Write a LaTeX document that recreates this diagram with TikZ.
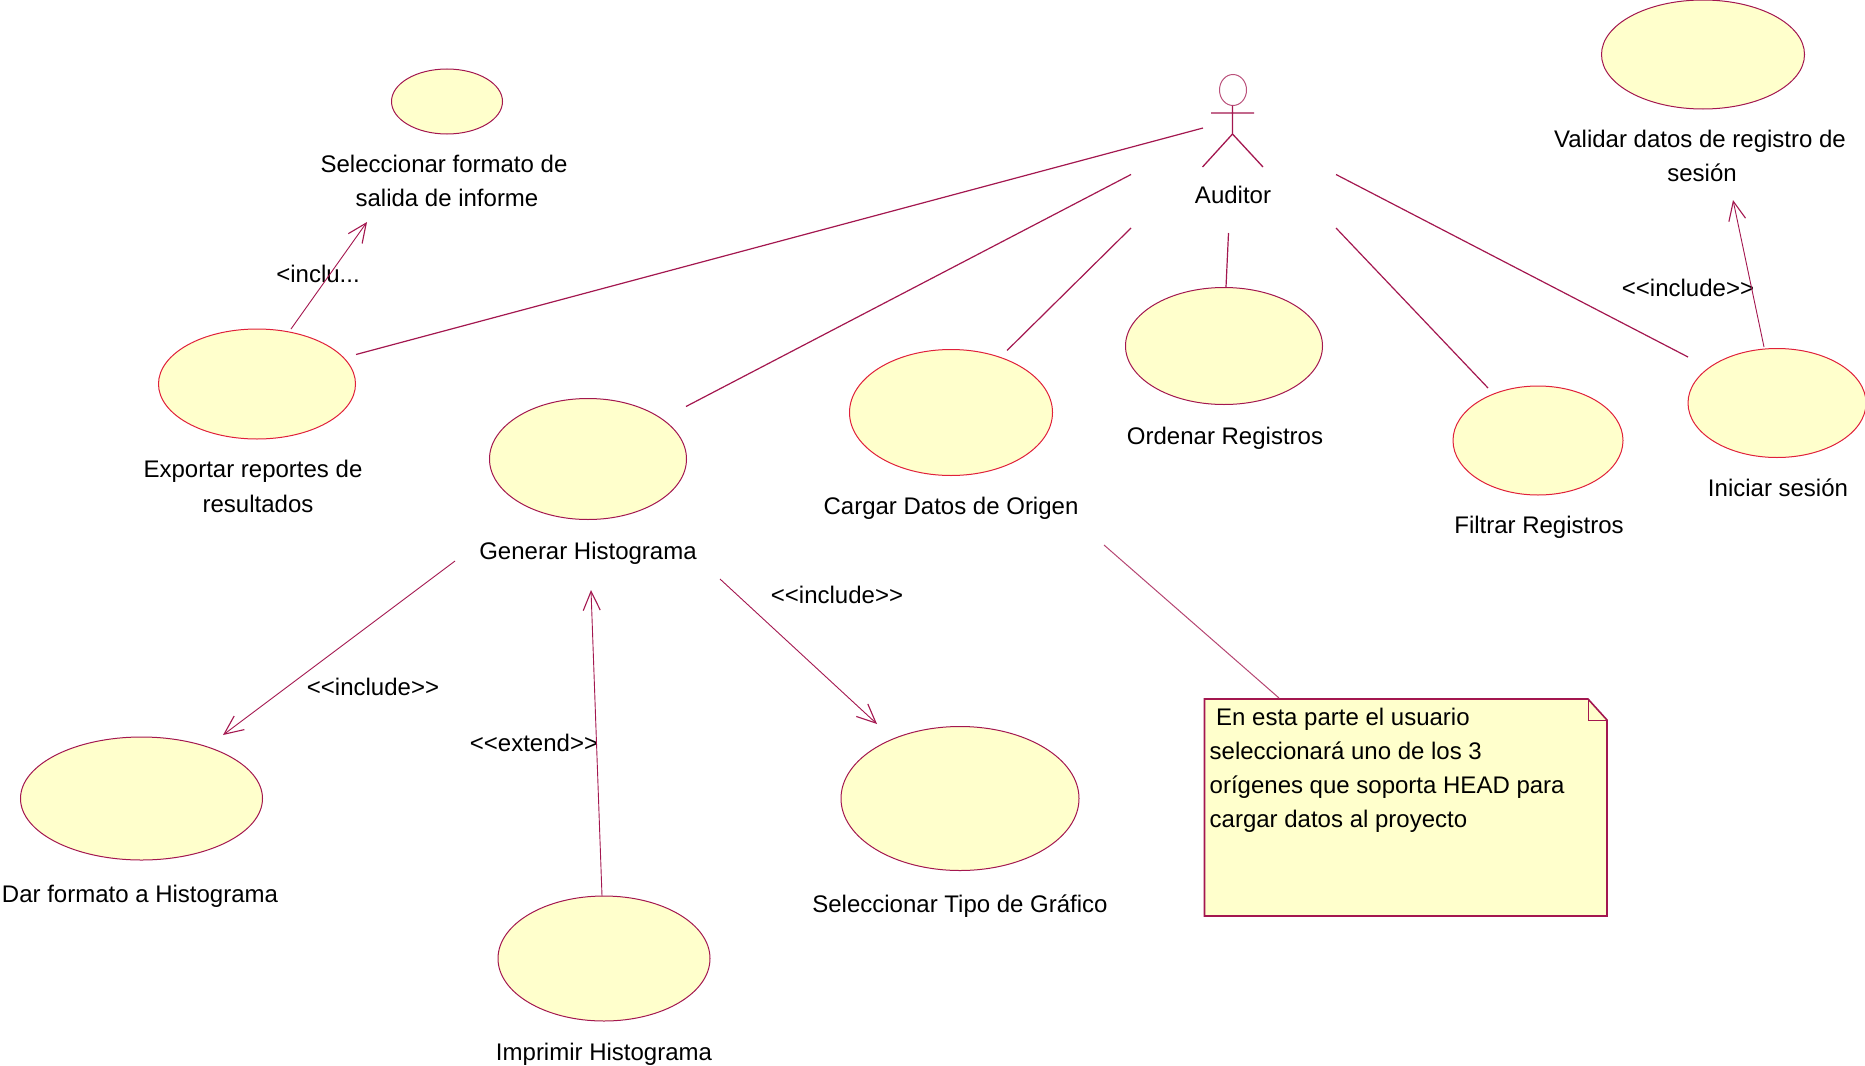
\documentclass[tikz,border=0pt]{standalone}
\usepackage{fontspec}
\setmainfont{Liberation Sans}
\usetikzlibrary{shapes.geometric,arrows.meta}
\definecolor{umlline}{HTML}{A3174F}
\definecolor{umlred}{HTML}{E0203A}
\definecolor{umlfill}{HTML}{FFFFCC}
\newcommand{\dbllt}{<\kern0pt<}
\newcommand{\dblgt}{>\kern0pt>}
\tikzset{
  usecase/.style={ellipse,draw=umlline,fill=umlfill,line width=1pt,inner sep=0pt},
  lab/.style={font=\fontsize{24}{34.5}\selectfont,text=black,align=center,inner sep=0pt,text height=18pt,text depth=5pt},
  assoc/.style={draw=umlline,line width=1.2pt},
  dep/.style={draw=umlline,line width=0.9pt,-{Straight Barb[length=19pt,width=17pt,line width=1.1pt]}},
  actorline/.style={draw=umlline,line width=1.3pt}
}
\begin{document}
\begin{tikzpicture}[x=1pt,y=-1pt]
\useasboundingbox (0,0) rectangle (1865,1065);
% use cases
\node[usecase,minimum width=111pt,minimum height=65pt] (ucFormato) at (447,101.5) {};
\node[usecase,minimum width=203pt,minimum height=109pt] (ucValidar) at (1703,54.5) {};
\node[usecase,draw=umlred,minimum width=197pt,minimum height=110pt] (ucExportar) at (257,384) {};
\node[usecase,minimum width=197pt,minimum height=121pt] (ucGenerar) at (588,459) {};
\node[usecase,draw=umlred,minimum width=203pt,minimum height=126pt] (ucCargar) at (951,412.5) {};
\node[usecase,minimum width=197pt,minimum height=117pt] (ucOrdenar) at (1224,346) {};
\node[usecase,draw=umlred,minimum width=170pt,minimum height=109pt] (ucFiltrar) at (1538,440.5) {};
\node[usecase,draw=umlred,minimum width=178pt,minimum height=109pt] (ucIniciar) at (1777,403) {};
\node[usecase,minimum width=242pt,minimum height=123pt] (ucDar) at (141.5,798.5) {};
\node[usecase,minimum width=238pt,minimum height=144pt] (ucTipo) at (960,798.5) {};
\node[usecase,minimum width=212pt,minimum height=125pt] (ucImprimir) at (604,958.5) {};
% actor
\node[ellipse,draw=umlline!75,line width=1pt,inner sep=0pt,minimum width=27pt,minimum height=31pt] (head) at (1233,90) {};
\coordinate (neck) at (1232.5,105.5);
\coordinate (hip) at (1232.5,134);
\coordinate (armL) at (1211,113);
\coordinate (armR) at (1254,113);
\coordinate (legL) at (1202.5,167);
\coordinate (legR) at (1263,167);
\draw[actorline] (neck) -- (hip) (armL) -- (armR) (legL) -- (hip) -- (legR);
% note
\coordinate (nA) at (1204.5,699);
\coordinate (nB) at (1588,699);
\coordinate (nC) at (1607,720);
\coordinate (nD) at (1607,916);
\coordinate (nE) at (1204.5,916);
\coordinate (nF) at (1588,720);
\draw[draw=umlline,fill=umlfill,line width=1.6pt] (nA) -- (nB) -- (nC) -- (nD) -- (nE) -- cycle;
\draw[draw=umlline,line width=1pt] (nB) -- (nF) -- (nC);
% labels
\node[lab] (tFormatoA) at (444,166) {Seleccionar formato de};
\node[lab] (tFormatoB) at (447,200) {salida de informe};
\node[lab] (tValidarA) at (1700,141) {Validar datos de registro de};
\node[lab] (tValidarB) at (1702,175) {sesión};
\node[lab] (tExportarA) at (253,471) {Exportar reportes de};
\node[lab] (tExportarB) at (258,506) {resultados};
\node[lab] (tGenerar) at (588,553) {Generar Histograma};
\node[lab] (tCargar) at (951,508) {Cargar Datos de Origen};
\node[lab] (tOrdenar) at (1225,438) {Ordenar Registros};
\node[lab] (tFiltrar) at (1539,527) {Filtrar Registros};
\node[lab] (tIniciar) at (1778,490) {Iniciar sesión};
\node[lab] (tDar) at (140,896) {Dar formato a Histograma};
\node[lab] (tTipo) at (960,906) {Seleccionar Tipo de Gráfico};
\node[lab] (tImprimir) at (604,1054) {Imprimir Histograma};
\node[lab] (tAuditor) at (1233,197) {Auditor};
\node[lab] (sInclu) at (318,276) {<inclu...};
\node[lab] (sIncA) at (1688,290) {\dbllt include\dblgt};
\node[lab] (sIncB) at (837,597) {\dbllt include\dblgt};
\node[lab] (sIncC) at (373,689) {\dbllt include\dblgt};
\node[lab] (sExt) at (534,745) {\dbllt extend\dblgt};
\node[lab,anchor=west] (nt1) at (1216,719) {En esta parte el usuario};
\node[lab,anchor=west] (nt2) at (1209.5,753) {seleccionará uno de los 3};
\node[lab,anchor=west] (nt3) at (1209.5,787) {orígenes que soporta HEAD para};
\node[lab,anchor=west] (nt4) at (1209.5,821) {cargar datos al proyecto};
% connector ends
\coordinate (a1) at (1203,128); \coordinate (e1) at (356,354.5);
\coordinate (a2) at (1131,174.5); \coordinate (e2) at (686,406.5);
\coordinate (a3) at (1131,228); \coordinate (e3) at (1007,350.5);
\coordinate (a4) at (1228.5,233); \coordinate (e4) at (1226,287);
\coordinate (a5) at (1336,228); \coordinate (e5) at (1488,388);
\coordinate (a6) at (1336,174.5); \coordinate (e6) at (1688,357);
\coordinate (d1s) at (291,329); \coordinate (d1e) at (367,222);
\coordinate (d2s) at (1764,347); \coordinate (d2e) at (1733,200);
\coordinate (d3s) at (455,561); \coordinate (d3e) at (223,735);
\coordinate (d4s) at (602,896); \coordinate (d4e) at (591,590);
\coordinate (d5s) at (720,579); \coordinate (d5e) at (877,724);
\coordinate (n1s) at (1104,545); \coordinate (n1e) at (1279,698);
\draw[assoc] (a1) -- (e1);
\draw[assoc] (a2) -- (e2);
\draw[assoc] (a3) -- (e3);
\draw[assoc] (a4) -- (e4);
\draw[assoc] (a5) -- (e5);
\draw[assoc] (a6) -- (e6);
\draw[dep] (d1s) -- (d1e);
\draw[dep] (d2s) -- (d2e);
\draw[dep] (d3s) -- (d3e);
\draw[dep] (d4s) -- (d4e);
\draw[dep] (d5s) -- (d5e);
\draw[draw=umlline!80,line width=1pt] (n1s) -- (n1e);
\end{tikzpicture}
\end{document}
